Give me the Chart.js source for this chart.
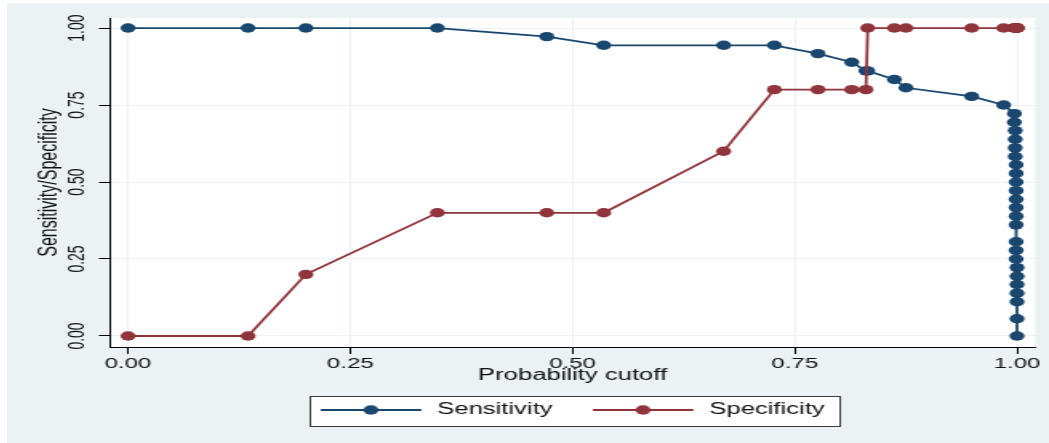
<!DOCTYPE html>
<html>
<head>
<meta charset="utf-8">
<title>Sensitivity/Specificity by probability cutoff</title>
<script src="https://cdn.jsdelivr.net/npm/chart.js@4.4.1/dist/chart.umd.min.js"></script>
<style>
  html, body { margin: 0; padding: 0; background: #ffffff; }
  body { width: 1049px; height: 443px; overflow: hidden; position: relative; }
  #lsens { position: absolute; left: 7px; top: 3px; }
</style>
</head>
<body>
<!-- the original graph is a horizontally stretched picture, so the canvas is drawn narrow and stretched by CSS -->
<canvas id="lsens" width="651" height="440" style="width:1042px;height:440px"></canvas>
<script>
// --- values ---
const cutoffs = [0, 0.135, 0.200, 0.348, 0.471, 0.535, 0.670, 0.727, 0.776, 0.814, 0.830, 0.832,
    0.862, 0.875, 0.949, 0.985,
    0.997, 0.997, 0.998, 0.998, 0.998, 0.998, 0.999, 0.999, 0.999, 0.999, 0.999, 0.999,
    0.999, 0.999, 0.999, 0.999, 0.999, 1.000, 1.000, 1.000, 1.000, 1.000, 1.000, 1.000];

const sensitivity = [1, 1, 1, 1, 0.972, 0.944, 0.944, 0.944, 0.917, 0.889, 0.861, 0.861,
    0.833, 0.806, 0.778, 0.750,
    0.722, 0.694, 0.667, 0.639, 0.611, 0.583, 0.556, 0.528, 0.500, 0.472, 0.444, 0.417,
    0.389, 0.361, 0.306, 0.278, 0.250, 0.222, 0.194, 0.167, 0.139, 0.111, 0.056, 0];

const specificity = [0, 0, 0.2, 0.4, 0.4, 0.4, 0.6, 0.8, 0.8, 0.8, 0.8, 1,
    1, 1, 1, 1,
    1, 1, 1, 1, 1, 1, 1, 1, 1, 1, 1, 1,
    1, 1, 1, 1, 1, 1, 1, 1, 1, 1, 1, 1];

const seriesNames = ['Sensitivity', 'Specificity'];
const xTicks = [0, 0.25, 0.5, 0.75, 1];
const yTicks = [0, 0.25, 0.5, 0.75, 1];
const xTitle = 'Probability cutoff';
const yTitle = 'Sensitivity/Specificity';

const navy = '#1a476f';
const maroon = '#90353b';
const ink = '#111111';

Chart.defaults.font.family = "'Liberation Sans', Arial, sans-serif";

// legend sample: short line with the marker in the middle (like Stata)
function legendSample(color) {
    const c = document.createElement('canvas');
    c.width = 65;
    c.height = 12;
    const g = c.getContext('2d');
    g.strokeStyle = color;
    g.lineWidth = 1.8;
    g.beginPath();
    g.moveTo(0, 6);
    g.lineTo(63, 6);
    g.stroke();
    g.fillStyle = color;
    g.beginPath();
    g.arc(31.5, 6, 4.7, 0, Math.PI * 2);
    g.fill();
    return c;
}
const samples = [legendSample(navy), legendSample(maroon)];

// grey graph region, white plot region and the framed legend
const backdrop = {
    id: 'backdrop',
    beforeDraw(chart) {
        const { ctx, chartArea: a } = chart;
        ctx.save();
        ctx.fillStyle = '#eaf2f3';
        ctx.fillRect(0, 0, chart.width, chart.height);
        ctx.fillStyle = '#ffffff';
        ctx.fillRect(a.left, a.top, a.right - a.left, a.bottom - a.top);
        const hb = chart.legend.legendHitBoxes;
        if (hb && hb.length) {
            const first = hb[0], last = hb[hb.length - 1];
            const x0 = Math.round(first.left - 7) + 0.5;
            const x1 = Math.round(last.left + last.width + 9) + 0.5;
            const y0 = Math.round(first.top - 6) + 0.5;
            const y1 = Math.round(first.top + first.height + 8) + 0.5;
            ctx.fillRect(x0, y0, x1 - x0, y1 - y0);
            ctx.strokeStyle = '#3c3c3c';
            ctx.lineWidth = 1;
            ctx.strokeRect(x0, y0, x1 - x0, y1 - y0);
        }
        ctx.restore();
    }
};

const toPoints = ys => cutoffs.map((x, i) => ({ x: x, y: ys[i] }));

new Chart(document.getElementById('lsens'), {
    type: 'scatter',
    data: {
        datasets: [
            {
                label: seriesNames[0],
                data: toPoints(sensitivity),
                showLine: true,
                borderColor: navy,
                backgroundColor: navy,
                borderWidth: 1.8,
                pointRadius: 4.7,
                pointBorderWidth: 0,
                pointBackgroundColor: navy,
                order: 2
            },
            {
                label: seriesNames[1],
                data: toPoints(specificity),
                showLine: true,
                borderColor: maroon,
                backgroundColor: maroon,
                borderWidth: 1.8,
                pointRadius: 4.7,
                pointBorderWidth: 0,
                pointBackgroundColor: maroon,
                order: 1
            }
        ]
    },
    options: {
        responsive: false,
        devicePixelRatio: 1,
        animation: false,
        events: [],
        layout: { padding: { left: 0, right: 8.7, top: 15, bottom: 15 } },
        scales: {
            x: {
                type: 'linear',
                bounds: 'data',
                min: -0.0202,
                max: 1.0203,
                afterBuildTicks: s => { s.ticks = xTicks.map(v => ({ value: v })); },
                afterFit: s => { s.height = 30; },
                ticks: {
                    padding: 1,
                    color: ink,
                    font: { size: 15 },
                    maxRotation: 0,
                    callback: v => v.toFixed(2)
                },
                grid: { color: '#eaf2f3', lineWidth: 1, tickColor: '#000', tickLength: 7 },
                border: { color: '#000', width: 1 },
                title: {
                    display: true,
                    text: xTitle,
                    color: ink,
                    font: { size: 16 },
                    padding: { top: 0, bottom: -8.6 }
                }
            },
            y: {
                type: 'linear',
                bounds: 'data',
                min: -0.0358,
                max: 1.0326,
                afterBuildTicks: s => { s.ticks = yTicks.map(v => ({ value: v })); },
                afterFit: s => { s.width = 64.4; },
                ticks: {
                    padding: 0,
                    color: ink,
                    font: { size: 14 },
                    minRotation: 90,
                    maxRotation: 90,
                    crossAlign: 'center',
                    callback: v => v.toFixed(2)
                },
                grid: { color: '#eaf2f3', lineWidth: 1, tickColor: '#000', tickLength: 7 },
                border: { color: '#000', width: 1 },
                title: {
                    display: true,
                    text: yTitle,
                    color: ink,
                    font: { size: 16 },
                    padding: { top: 17.3, bottom: 0 }
                }
            }
        },
        plugins: {
            tooltip: { enabled: false },
            legend: {
                position: 'bottom',
                fullSize: false,
                labels: {
                    usePointStyle: true,
                    pointStyleWidth: 65,
                    padding: 25,
                    color: ink,
                    font: { size: 16 },
                    generateLabels: chart => chart.data.datasets.map((ds, i) => ({
                        text: ds.label,
                        pointStyle: samples[i],
                        datasetIndex: i,
                        hidden: false,
                        lineWidth: 0,
                        fillStyle: ds.borderColor,
                        strokeStyle: ds.borderColor,
                        fontColor: ink
                    }))
                }
            }
        }
    },
    plugins: [backdrop]
});
</script>
</body>
</html>
